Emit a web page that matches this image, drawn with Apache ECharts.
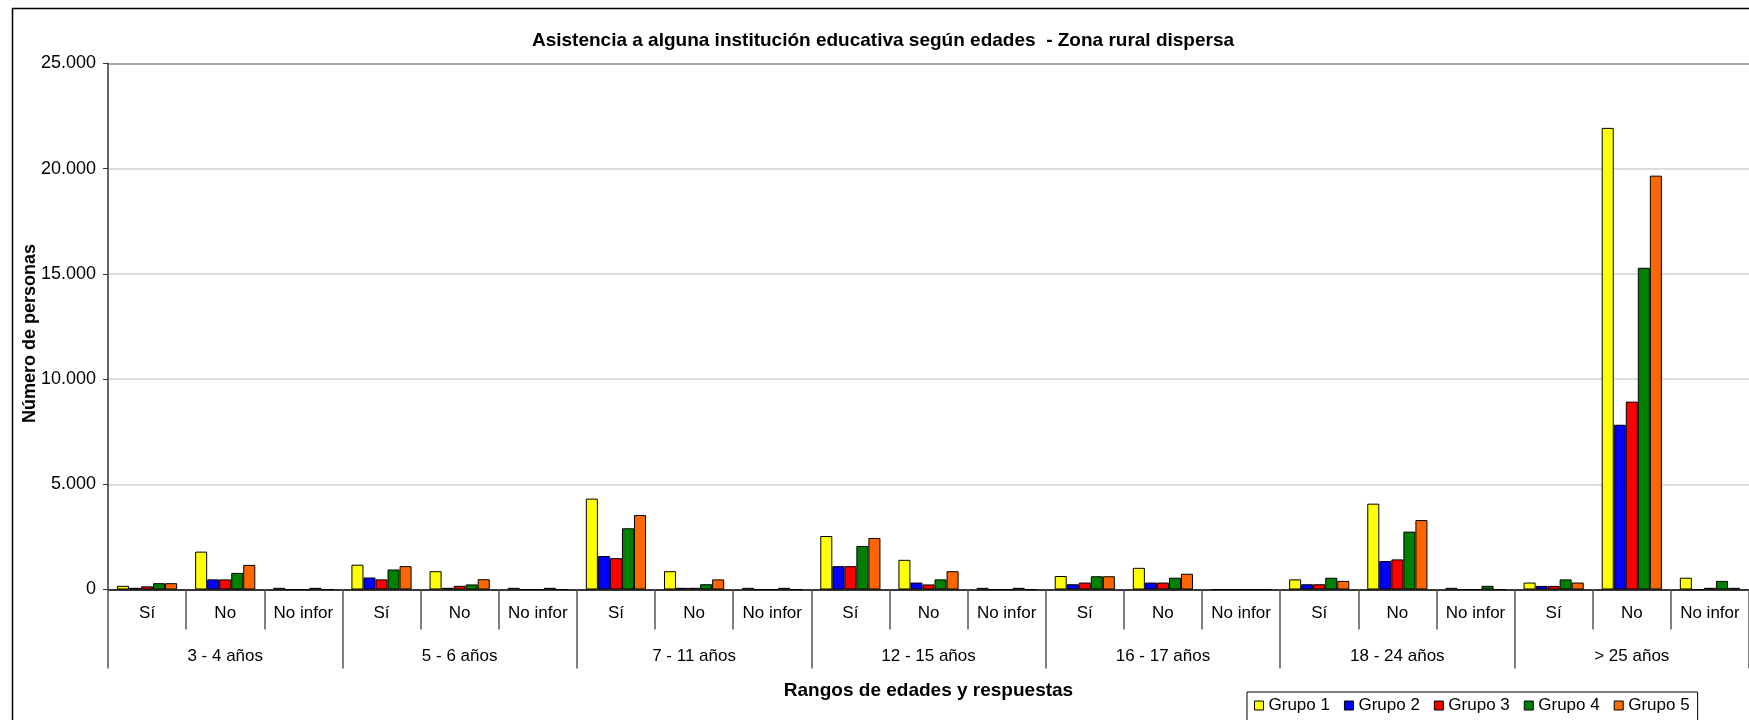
<!DOCTYPE html>
<html>
<head>
<meta charset="utf-8">
<script src="https://cdn.jsdelivr.net/npm/echarts@6/dist/echarts.min.js"></script>
<style>
html,body{margin:0;padding:0;background:#fff;}
#chart{width:1749px;height:720px;}
</style>
</head>
<body>
<div id="chart"></div>
<script>
// ---- data ----
const categories = [
  'Sí','No','No infor', 'Sí','No','No infor', 'Sí','No','No infor',
  'Sí','No','No infor', 'Sí','No','No infor', 'Sí','No','No infor',
  'Sí','No','No infor'
];
const ageGroups = ['3 - 4 años','5 - 6 años','7 - 11 años','12 - 15 años','16 - 17 años','18 - 24 años','> 25 años'];
const seriesNames = ['Grupo 1','Grupo 2','Grupo 3','Grupo 4','Grupo 5'];
const grupo1 = [175, 1800, 80,  1180, 870, 80,  4320, 870, 80,  2540, 1410, 80,  640, 1030, 0,  480, 4080, 80,  330, 21940, 560];
const grupo2 = [80,  480,  0,   570,  80,  0,   1590, 80,  0,   1110, 330,  0,   250, 330,  0,  250, 1350, 0,   170, 7830,  0];
const grupo3 = [150, 480,  0,   480,  175, 0,   1490, 80,  0,   1110, 240,  0,   330, 330,  0,  250, 1430, 0,   170, 8930,  80];
const grupo4 = [300, 790,  80,  950,  240, 80,  2910, 250, 80,  2070, 480,  80,  630, 560,  0,  560, 2750, 175, 480, 15290, 410];
const grupo5 = [300, 1170, 0,   1110, 490, 0,   3540, 480, 0,   2450, 870,  0,   630, 750,  0,  410, 3300, 0,   330, 19670, 80];
const yTicks = [0, 5000, 10000, 15000, 20000, 25000];
const colors = ['#FFFF00','#0000FF','#FF0000','#008000','#FF6600'];

const FONT = '"Liberation Sans", Arial, sans-serif';
const allValues = [grupo1, grupo2, grupo3, grupo4, grupo5];

function fmt(v){ return String(v).replace(/\B(?=(\d{3})+(?!\d))/g, '.'); }

const chart = echarts.init(document.getElementById('chart'), null, {renderer:'canvas'});
chart.setOption({
  backgroundColor: '#fff',
  animation: false,
  textStyle: {fontFamily: FONT, color: '#000'},
  title: {
    text: 'Asistencia a alguna institución educativa según edades  - Zona rural dispersa',
    left: 878, top: 26, textAlign: 'center',
    textStyle: {fontFamily: FONT, fontSize: 19, fontWeight: 'bold', color: '#000'}
  },
  legend: {
    data: seriesNames,
    left: 1247, top: 692,
    orient: 'horizontal',
    icon: 'rect', itemWidth: 9, itemHeight: 9, itemGap: 14,
    padding: [5, 8, 8, 7],
    borderColor: '#000', borderWidth: 1, backgroundColor: '#fff',
    textStyle: {fontFamily: FONT, fontSize: 17, color: '#000'},
    itemStyle: {borderColor: '#000', borderWidth: 1}
  },
  graphic: [{
    type: 'rect', silent: true, z: 0,
    shape: {x: 12.5, y: 8.5, width: 1800, height: 800},
    style: {fill: 'none', stroke: '#000', lineWidth: 1.5}
  }],
  grid: {left: 108, top: 63.5, width: 1648, height: 526, containLabel: false},
  xAxis: [{
    type: 'category', data: categories, position: 'bottom',
    axisLine: {show: true, lineStyle: {color: '#000', width: 1.5}},
    axisTick: {show: true, interval: 0, length: 40, lineStyle: {color: '#555', width: 1.5}},
    axisLabel: {interval: 0, margin: 15, fontFamily: FONT, fontSize: 17, color: '#000'},
    splitLine: {show: false}
  }, {
    type: 'category', data: ageGroups, position: 'bottom',
    axisLine: {show: false},
    axisTick: {show: true, interval: 0, length: 79, lineStyle: {color: '#555', width: 1.5}},
    axisLabel: {interval: 0, margin: 58, fontFamily: FONT, fontSize: 17, color: '#000'},
    name: 'Rangos de edades y respuestas', nameLocation: 'middle', nameGap: 92,
    nameMoveOverlap: false,
    nameTextStyle: {fontFamily: FONT, fontSize: 19, fontWeight: 'bold', color: '#000'}
  }],
  yAxis: {
    type: 'value', min: yTicks[0], max: yTicks[yTicks.length-1], interval: 5000,
    name: 'Número de personas', nameLocation: 'middle', nameGap: 69, nameRotate: 90,
    nameMoveOverlap: false,
    nameTextStyle: {fontFamily: FONT, fontSize: 18, fontWeight: 'bold', color: '#000', padding: [0, 14, 0, 0]},
    axisLine: {show: true, lineStyle: {color: '#333', width: 1.5}},
    axisTick: {show: true, length: 5, lineStyle: {color: '#333'}},
    axisLabel: {margin: 12, fontFamily: FONT, fontSize: 18, color: '#000', formatter: fmt},
    splitLine: {show: true, lineStyle: {color: ['#d0d0d0','#d0d0d0','#d0d0d0','#d0d0d0','#d0d0d0','#8a8a8a'], width: 1.5}}
  },
  series: seriesNames.map((n, i) => ({
    name: n, type: 'bar', xAxisIndex: 0, data: allValues[i],
    barGap: '0%', barCategoryGap: '23%',
    itemStyle: {color: colors[i], borderColor: '#000', borderWidth: 1}
  }))
});
</script>
</body>
</html>
